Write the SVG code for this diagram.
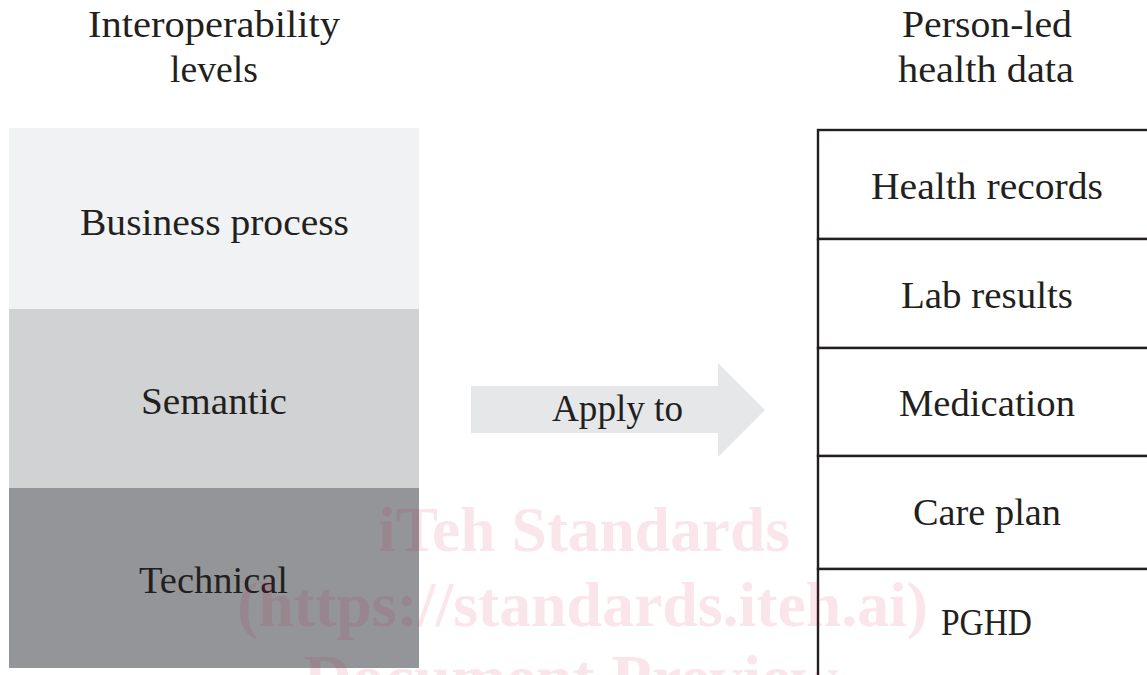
<svg xmlns="http://www.w3.org/2000/svg" width="1147" height="675" viewBox="0 0 1147 675">
  <style>
    .lbl { font-family: "Liberation Serif", "Times New Roman", serif; font-size: 38px; fill: #231f20; text-anchor: middle; }
    .cell { fill: #ffffff; stroke: #231f20; stroke-width: 2.4; }
    .wm { font-family: "Liberation Serif", "Times New Roman", serif; font-weight: bold; font-size: 63px; fill: #c8103c; fill-opacity: 0.11; text-anchor: middle; }
  </style>
  <rect width="1147" height="675" fill="#ffffff"/>

  <!-- column headings -->
  <g id="heading-levels">
    <text class="lbl" x="214" y="37" textLength="252" lengthAdjust="spacingAndGlyphs">Interoperability</text>
    <text class="lbl" x="214" y="82" textLength="88" lengthAdjust="spacingAndGlyphs">levels</text>
  </g>
  <g id="heading-data">
    <text class="lbl" x="987" y="37" textLength="170" lengthAdjust="spacingAndGlyphs">Person-led</text>
    <text class="lbl" x="986" y="82" textLength="176" lengthAdjust="spacingAndGlyphs">health data</text>
  </g>

  <!-- interoperability level stack -->
  <g id="level-business">
    <rect x="9" y="128" width="410" height="181" fill="#f1f2f4"/>
    <text class="lbl" x="214.5" y="235" textLength="269" lengthAdjust="spacingAndGlyphs">Business process</text>
  </g>
  <g id="level-semantic">
    <rect x="9" y="309" width="410" height="179" fill="#d1d2d4"/>
    <text class="lbl" x="214" y="414" textLength="146" lengthAdjust="spacingAndGlyphs">Semantic</text>
  </g>
  <g id="level-technical">
    <rect x="9" y="488" width="410" height="180" fill="#939598"/>
    <text class="lbl" x="213.5" y="593" textLength="149" lengthAdjust="spacingAndGlyphs">Technical</text>
  </g>

  <!-- connector: block arrow -->
  <g id="connectors">
    <g id="apply-to">
      <polygon points="471,386 718,386 718,363 765,410 718,457 718,433 471,433" fill="#e6e7e8"/>
      <text class="lbl" x="617.5" y="421" textLength="131" lengthAdjust="spacingAndGlyphs">Apply to</text>
    </g>
  </g>

  <!-- person-led health data stack -->
  <g id="data-health-records">
    <rect class="cell" x="818" y="130" width="340" height="109"/>
    <text class="lbl" x="987" y="199" textLength="232" lengthAdjust="spacingAndGlyphs">Health records</text>
  </g>
  <g id="data-lab-results">
    <rect class="cell" x="818" y="239" width="340" height="109"/>
    <text class="lbl" x="987" y="308" textLength="172" lengthAdjust="spacingAndGlyphs">Lab results</text>
  </g>
  <g id="data-medication">
    <rect class="cell" x="818" y="348" width="340" height="108"/>
    <text class="lbl" x="987" y="416" textLength="176" lengthAdjust="spacingAndGlyphs">Medication</text>
  </g>
  <g id="data-care-plan">
    <rect class="cell" x="818" y="456" width="340" height="113"/>
    <text class="lbl" x="987" y="525" textLength="148" lengthAdjust="spacingAndGlyphs">Care plan</text>
  </g>
  <g id="data-pghd">
    <rect class="cell" x="818" y="569" width="340" height="130"/>
    <text class="lbl" x="986.5" y="635" textLength="91" lengthAdjust="spacingAndGlyphs">PGHD</text>
  </g>

  <!-- preview stamp -->
  <g id="stamp">
    <text class="wm" x="584" y="551" textLength="412" lengthAdjust="spacingAndGlyphs">iTeh Standards</text>
    <text class="wm" x="582.5" y="626" textLength="691" lengthAdjust="spacingAndGlyphs">(https://standards.iteh.ai)</text>
    <text class="wm" x="571" y="699" textLength="535" lengthAdjust="spacingAndGlyphs">Document Preview</text>
  </g>
</svg>
